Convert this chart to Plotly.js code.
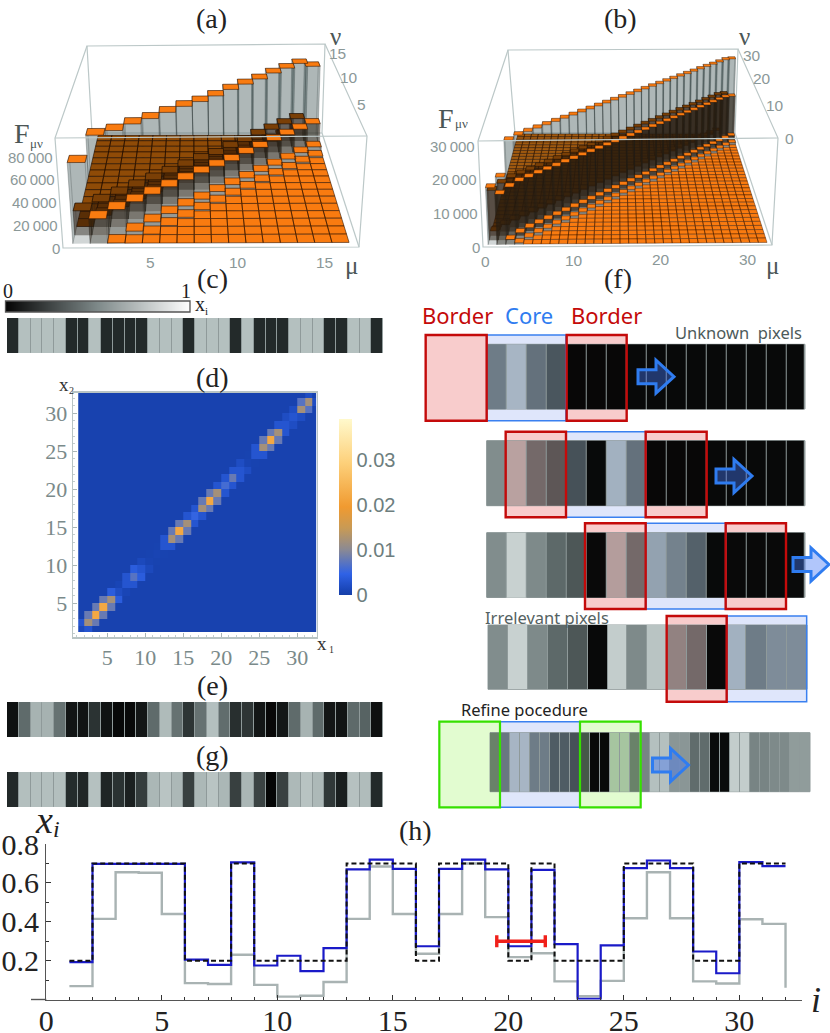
<!DOCTYPE html>
<html><head><meta charset="utf-8">
<script src="https://cdn.plot.ly/plotly-3.0.1.min.js"></script>
<style>html,body{margin:0;padding:0;background:#fff}</style></head>
<body><div id="chart" style="width:830px;height:1033px"></div>
<script>
// ---- (h) series, also the strips (c), (e), (g)
const indexH=[1,2,3,4,5,6,7,8,9,10,11,12,13,14,15,16,17,18,19,20,21,22,23,24,25,26,27,28,29,30,31,32];
const target=[.2,.7,.7,.7,.7,.2,.2,.7,.2,.2,.2,.2,.7,.7,.7,.2,.7,.7,.7,.2,.7,.2,.2,.2,.7,.7,.7,.2,.2,.7,.7,.2];
const recovered=[.192,.698,.698,.698,.698,.205,.178,.705,.175,.225,.146,.264,.669,.72,.672,.274,.672,.72,.669,.274,.667,.285,.003,.278,.676,.715,.676,.247,.135,.707,.686,.2];
const inverse=[.069,.415,.655,.652,.44,.084,.08,.23,.075,.015,.019,.09,.415,.684,.44,.235,.44,.70,.424,.218,.238,.093,.017,.096,.418,.655,.418,.093,.082,.413,.389,.06];
const rampValues=[0,.1,.2,.3,.4,.5,.6,.7,.8,.9,1];
// ---- (a) bar heights by distance from the diagonal
const diagA=[72000,90000,88000,88000,87000,87000,87000,86000,86000,87000,87000,87000,88000,88000,88000,80000];
const off1A=[22000,23000,23000,23000,23000,23000,23000,23000,22000,23000,23000,24000,24000,24000,24000];
const off2A=[500,3500,4500,5000,5000,4500,5000,5000,5000,5000,5000,5000,5500,5500];
const off3A=[300,800,1200,1500,1500,1500,1500,1500,1500,1500,1500,1800,1800];
const floorA=300;
// ---- (b)
const diagB=[17000,19000,29000,29500,29500,29500,29500,29500,29500,29500,29500,29500,29500,29500,29500,29500,29500,29500,29500,29500,29500,29500,29500,29500,29500,29500,29500,29500,29500,29500,29500,29000];
const off1B=[15000,16000,16500,16500,16500,16500,16500,16500,16500,16500,16500,16500,16500,16500,16500,16500,16500,16500,16500,16500,16500,16500,16500,16500,16500,16500,16500,16500,16500,16500,16000];
const off2B=[1500,2200,2400,2400,2400,2400,2400,2400,2400,2400,2400,2400,2400,2400,2400,2400,2400,2400,2400,2400,2400,2400,2400,2400,2400,2400,2400,2400,2400,2400];
const off3B=[500,800,900,900,900,900,900,900,900,900,900,900,900,900,900,900,900,900,900,900,900,900,900,900,900,900,900,900,900];
const floorB=120;
// ---- (d)
const diagD=[.0015,.012,.022,.022,.012,.002,.003,.007,.003,.0008,.0008,.003,.012,.022,.012,.005,.012,.022,.012,.006,.008,.003,.0008,.003,.012,.022,.012,.003,.003,.012,.012,.0006];
const off1D=[.003,.008,.008,.008,.004,.001,.003,.004,.0015,.0006,.0006,.003,.008,.008,.003,.003,.008,.008,.003,.003,.003,.002,.0006,.003,.008,.008,.003,.002,.002,.007,.002];
const backgroundD=.0005;
const xEdgesD=[1.18,2,3,4,5,6,7,8,9,10,11,12,13,14,15,16,17,18,19,20,21,22,23,24,25,26,27,28,29,30,31,32,32.55];
// ---- (f) pixel intensities of each row
const row1=[.52,.74,.48,.38,.02,.02,.02,.02,.02,.02,.02,.02,.02,.02,.02,.02];
const row2=[.53,.74,.5,.42,.36,.03,.72,.48,.02,.02,.02,.02,.02,.02,.02,.02];
const row3=[.53,.78,.52,.41,.35,.03,.72,.5,.66,.54,.42,.03,.03,.03,.03,.03];
const row4=[.53,.78,.52,.41,.35,.02,.76,.52,.72,.6,.5,.03,.72,.52,.58,.58];
const row5=[.5,.5,.74,.74,.52,.52,.4,.4,.36,.36,.03,.03,.74,.74,.5,.5,.7,.7,.56,.56,.42,.42,.03,.03,.76,.76,.5,.5,.52,.52,.58,.58];

const grayStops=[[0,[5,5,5]],[.2,[35,42,42]],[.42,[96,108,108]],[.7,[180,192,191]],[1,[255,255,255]]];
const tinted=t=>grayStops.map(([p,c])=>[p,'rgb('+c.map((v,i)=>Math.round(v*t[i])).join(',')+')']);
const grayScale=tinted([1,1,1]);
const TR=[.97,.80,.80],TB=[.875,.9,.985],TG=[.87,.985,.80];
const dScale=[[0,'#163fa8'],[.03,'#1a46b8'],[.12,'#2f62e6'],[.26,'#8c8a92'],[.38,'#c89a55'],[.5,'#f09a30'],[.75,'#fdd07a'],[1,'#fff9cc']];
const traces=[],shapes=[],annos=[];
const SERIF='"Liberation Serif",serif',SANS='"Liberation Sans",sans-serif',NOTO='"Noto Sans",sans-serif';
function T(text,x,y,size,color,family,anchor,italic){
  annos.push({text:italic?'<i>'+text+'</i>':text,x:x,y:y,xref:'x',yref:'y',showarrow:false,xanchor:anchor||'center',yanchor:'middle',
    font:{size:size,color:color||'#222',family:family||SERIF},borderpad:0,borderwidth:0});
}
function dom(x0,x1,y0,y1){return {x:[x0/830,x1/830],y:[1-y1/1033,1-y0/1033]};}

// ---------- perspective bars
function homography(q){
  const [x0,y0]=q[0],[x1,y1]=q[1],[x2,y2]=q[2],[x3,y3]=q[3];
  const dx1=x1-x2,dx2=x3-x2,sx=x0-x1+x2-x3,dy1=y1-y2,dy2=y3-y2,sy=y0-y1+y2-y3;
  const den=dx1*dy2-dx2*dy1,g=(sx*dy2-dx2*sy)/den,h=(dx1*sy-sx*dy1)/den;
  const a=x1-x0+g*x1,b=x3-x0+h*x3,d=y1-y0+g*y1,e=y3-y0+h*y3;
  return (u,v)=>{const w=g*u+h*v+1;return [(a*u+b*v+x0)/w,(d*u+e*v+y0)/w];};
}
function panel3D(P,diag,o1,o2,o3,base){
  const hf=homography(P.floor),ht=homography(P.top),N=diag.length;
  const pr=(m,n,f)=>{const u=m/P.span,v=n/P.span,a=hf(u,v),b=ht(u,v),t=f/P.fMax;return [a[0]+(b[0]-a[0])*t,a[1]+(b[1]-a[1])*t];};
  const height=(m,n)=>{const d=Math.abs(m-n),k=Math.min(m,n)-1;
    return d===0?diag[k]:d===1?o1[k]:d===2?o2[k]:d===3?o3[k]:base;};
  const add=(path,opt)=>{traces.push(Object.assign({x:path.x,y:path.y,type:'scatter',mode:'lines',xaxis:'x',yaxis:'y',hoverinfo:'skip',showlegend:false,fill:'toself'},opt));};
  const poly=(pts,t)=>{pts.concat([pts[0]]).forEach(p=>{t.x.push(p[0]);t.y.push(p[1]);});t.x.push(null);t.y.push(null);};
  const line=(pts,w,c)=>{traces.push({x:pts.map(p=>p[0]),y:pts.map(p=>p[1]),type:'scatter',mode:'lines',xaxis:'x',yaxis:'y',hoverinfo:'skip',showlegend:false,line:{color:c,width:w}});};
  const S=P.span,F=P.fMax,frame='#bcc8c8';
  const newg=()=>({x:[],y:[]});
  const faces=(m,n,f,g)=>{const a=m-.5,b=m+.5,c=n-.5,d=n+.5;
    poly([pr(a,d,0),pr(b,d,0),pr(b,d,f),pr(a,d,f)],g.back);
    poly([pr(a,c,0),pr(a,d,0),pr(a,d,f),pr(a,c,f)],g.side);
    poly([pr(b,c,0),pr(b,d,0),pr(b,d,f),pr(b,c,f)],g.side);
    poly([pr(a,c,0),pr(b,c,0),pr(b,c,f),pr(a,c,f)],g.front);};
  const tile=(m,n,f,t)=>{const a=m-.5,b=m+.5,c=n-.5,d=n+.5;poly([pr(a,c,f),pr(b,c,f),pr(b,d,f),pr(a,d,f)],t);};
  const emit=(g,col)=>{
    if(g.back.x.length)add(g.back,{fillcolor:col,line:{width:0}});
    if(g.side.x.length)add(g.side,{fillcolor:col,line:{width:.5,color:'rgba(30,40,40,.5)'}});
    if(g.front.x.length)add(g.front,{fillcolor:col,line:{width:0}});};
  line([pr(0,S,0),pr(0,S,F),pr(S,S,F),pr(S,S,0),pr(0,S,0)],1.2,frame);
  // the tall diagonal walls, grey on the page
  for(let n=N;n>=1;n--){const g={back:newg(),side:newg(),front:newg()};faces(n,n,diag[n-1],g);emit(g,'rgba(62,82,82,'+P.alpha+')');}
  // behind the diagonal: the floor seen through the glassy walls
  for(let n=N;n>=1;n--){
    const t=newg(),t1=newg(),g={back:newg(),side:newg(),front:newg()};
    for(let m=1;m<n;m++){const f=height(m,n);
      if(n-m>=2)tile(m,n,f,t);
    }
    if(t.x.length)add(t,{fillcolor:P.behind,line:{width:P.edgeW,color:'rgba(30,12,0,.85)'}});
    if(n>=2){const m=n-1,f=height(m,n);faces(m,n,f,g);emit(g,'rgba(40,20,5,'+P.darkAlpha+')');tile(m,n,f,t1);add(t1,{fillcolor:P.behind1,line:{width:P.edgeW,color:'rgba(20,8,0,.9)'}});}
  }
  // the diagonal tops and everything in front of the diagonal
  for(let n=N;n>=1;n--){
    const base0=newg(),top=newg(),g={back:newg(),side:newg(),front:newg()};
    tile(n,n,diag[n-1],top);
    for(let m=n+1;m<=N;m++){const f=height(m,n);
      tile(m,n,f,top);
      if(f>P.wallMin){tile(m,n,0,base0);faces(m,n,f,g);}
    }
    if(base0.x.length)add(base0,{fillcolor:'#c6cfcf',line:{width:0}});
    if(g.back.x.length){add(g.back,{fillcolor:'rgba(40,30,18,'+P.darkAlpha+')',line:{width:0}});add(g.side,{fillcolor:'rgba(40,30,18,'+P.darkAlpha+')',line:{width:.4,color:'rgba(30,30,30,.5)'}});}
    add(top,{fillcolor:'#f97b10',line:{width:P.edgeW,color:'rgba(50,20,0,.85)'}});
    if(g.front.x.length)add(g.front,{fillcolor:'rgba(40,30,18,'+P.darkAlpha+')',line:{width:0}});
  }
  line([pr(0,0,F),pr(S,0,F)],1.2,frame);
  line([pr(0,S,F),pr(0,0,F),pr(0,0,0),pr(S,0,0),pr(S,0,F),pr(S,S,F)],1.2,frame);
  line([pr(S,S,0),pr(S,0,0)],1.2,frame);
  return pr;
}
const prA=panel3D({floor:[[63,248],[359,247],[322,133],[92,133]],top:[[55,138],[367,136],[325,44],[87,46]],span:17,fMax:97000,alpha:.24,darkAlpha:.3,wallMin:400,behind:'#8f4b07',behind1:'#7a3f06',edgeW:.7},diagA,off1A,off2A,off3A,floorA);
const prB=panel3D({floor:[[483,247],[772,245],[735,133],[515,133]],top:[[478,141],[778,138],[738,49],[508,50]],span:33,fMax:31500,alpha:.24,darkAlpha:.4,wallMin:300,behind:'#a05a10',behind1:'#7a3f06',edgeW:.5},diagB,off1B,off2B,off3B,floorB);

const tickGray='#8b9898',thin='\u2009';
[[0,'0'],[20000,'20'+thin+'000'],[40000,'40'+thin+'000'],[60000,'60'+thin+'000'],[80000,'80'+thin+'000']].forEach(([v,s])=>{const p=prA(0,0,v);T(s,p[0]-3,p[1],15,tickGray,SANS,'right');});
[5,10,15].forEach(v=>{const p=prA(v,0,0);T(String(v),p[0],p[1]+15,15.5,tickGray,SANS);});
[5,10,15].forEach(v=>{const p=prA(17,v,97000);T(String(v),p[0]+9,p[1]+1,15.5,tickGray,SANS);});
[[0,'0'],[10000,'10'+thin+'000'],[20000,'20'+thin+'000'],[30000,'30'+thin+'000']].forEach(([v,s])=>{const p=prB(0,0,v);T(s,p[0]-3,p[1],15,tickGray,SANS,'right');});
[0,10,20,30].forEach(v=>{const p=prB(v,0,0);T(String(v),p[0]+2,p[1]+14,15.5,tickGray,SANS);});
[0,10,20,30].forEach(v=>{const p=prB(33,v,31500);T(String(v),p[0]+11,p[1],15.5,tickGray,SANS);});

const labDark='#4b5656';
T('F',22,133,28,labDark);T('μν',36,143,13,labDark);
T('ν',335,36,25,labDark);T('μ',351,265,25,labDark);
T('F',446,118,28,labDark);T('μν',461,123,13,labDark);
T('ν',744,36,25,labDark);T('μ',772,265,25,labDark);

T('(a)',211,18,28);T('(b)',620,18,28);T('(c)',212,278,28);T('(f)',618,278,28);
T('(d)',212,377,28);T('(e)',212,685,28);T('(g)',212,755,28);T('(h)',415,830,28);
T('0',8,291,20);T('1',186,291,20);T('x',200,304,20);T('i',206,311,11);
T('x',64,384,19,'#333');T('2',71,390,10,'#333');T('x',322,643,19,'#333');T('1',331,649,10,'#333');
T('x',44,820,38,'#222',SERIF,'center',true);T('i',56,829,24,'#222',SERIF,'center',true);
T('i',816,1000,36,'#222',SERIF,'center',true);

// ---------- strips
const layout={width:830,height:1033,autosize:false,margin:{l:0,r:0,t:0,b:0},paper_bgcolor:'#fff',plot_bgcolor:'rgba(0,0,0,0)',showlegend:false,shapes:shapes,annotations:annos,
  xaxis:{domain:[0,1],range:[0,830],visible:false,fixedrange:true,anchor:'y'},
  yaxis:{domain:[0,1],range:[1033,0],visible:false,fixedrange:true,anchor:'x'}};
function hiddenAxes(i,D,xr,yr){
  layout['xaxis'+i]={domain:D.x,range:xr,visible:false,anchor:'y'+i,fixedrange:true};
  layout['yaxis'+i]={domain:D.y,range:yr,visible:false,anchor:'x'+i,fixedrange:true};
}
[[2,target,318,353],[3,inverse,702,737],[4,recovered,772,807]].forEach(([i,v,y0,y1])=>{
  hiddenAxes(i,dom(7,383,y0,y1),[.5,32.5],[-.5,.5]);
  shapes.push({type:'rect',xref:'x'+i,yref:'y'+i,x0:.5,x1:32.5,y0:-.5,y1:.5,layer:'below',fillcolor:'#8f9a9a',line:{width:1,color:'#9aa6a6'}});
  traces.push({type:'heatmap',x:indexH,y:[0],z:[v],zmin:0,zmax:1,colorscale:grayScale,showscale:false,xgap:1,hoverinfo:'skip',xaxis:'x'+i,yaxis:'y'+i});
});
hiddenAxes(5,dom(6,190,301,312),[0,1],[-.5,.5]);
traces.push({type:'heatmap',x:rampValues,y:[0],z:[rampValues],zmin:0,zmax:1,zsmooth:'best',colorscale:[[0,'#050505'],[.5,'#7f8a8a'],[1,'#ffffff']],showscale:false,hoverinfo:'skip',xaxis:'x5',yaxis:'y5'});
shapes.push({type:'rect',xref:'x',yref:'y',x0:5.5,x1:190,y0:301,y1:312,line:{width:1.3,color:'#555'},fillcolor:'rgba(0,0,0,0)'});

// ---------- (d)
const D=dom(73.3,316.7,393,637);
const axD=r=>({domain:null,range:r,fixedrange:true,tickvals:[5,10,15,20,25,30],ticks:'inside',ticklen:4,tickcolor:'#aab6b6',showgrid:false,zeroline:false,showline:true,linecolor:'#b9c4c4',linewidth:1.6,mirror:true,
  tickfont:{family:SERIF,size:22,color:'#7a8a8a'},minor:{dtick:1,ticks:'inside',ticklen:2,tickcolor:'#c4cece',showgrid:false}});
layout.xaxis6=Object.assign(axD([.53,32.55]),{domain:D.x,anchor:'y6'});
layout.yaxis6=Object.assign(axD([.57,32.67]),{domain:D.y,anchor:'x6'});
const zD=diagD.map((_,r)=>diagD.map((_,c)=>{
  const d=Math.abs(r-c);return d===0?diagD[r]:d===1?off1D[Math.min(r,c)]:backgroundD;}));
traces.push({type:'heatmap',x:xEdgesD,y:xEdgesD.map(v=>v===32.55?32.67:v),z:zD,zmin:0,zmax:.039,colorscale:dScale,hoverinfo:'skip',xaxis:'x6',yaxis:'y6',
  colorbar:{x:339/830,xanchor:'left',y:1-507/1033,yanchor:'middle',lenmode:'pixels',len:176,thicknessmode:'pixels',thickness:13,outlinewidth:0,borderwidth:0,xpad:0,ypad:0,ticks:'',
   tickvals:[0,.01,.02,.03],ticktext:['0','0.01','0.02','0.03'],tickfont:{family:SANS,size:20,color:'#6d7e7e'}}});

// ---------- (f)
const F5=[486.7,506.7,526.7,546.7,566.7,586.7,606.7,626.7,646.7,666.7,686.7,706.7,726.7,746.7,766.7,786.7,805];
const F4=[488,508,528,548,568,588,608,627,647,667,687,707,727,746,767,787,807];
const F5b=row5.map((_,i)=>490+i*10).concat([810]);
function box(x0,x1,y0,y1,stroke,fill,w,layer){shapes.push({type:'rect',xref:'x',yref:'y',x0:x0,x1:x1,y0:y0,y1:y1,line:{color:stroke,width:w},fillcolor:fill,layer:layer||'above'});}
function rowStrip(xs,vals,y0,y1,segs){
  shapes.push({type:'rect',xref:'x',yref:'y',x0:xs[0],x1:xs[xs.length-1],y0:y0,y1:y1,layer:'below',fillcolor:'#8f9a9a',line:{width:1,color:'#8f9a9a'}});
  segs.forEach(([a,b,t])=>{
    traces.push({type:'heatmap',x:xs.slice(a,b+1),y:[y0,y1],z:[vals.slice(a,b)],zmin:0,zmax:1,colorscale:tinted(t),showscale:false,xgap:1,hoverinfo:'skip',xaxis:'x',yaxis:'y'});
  });
}
const W=[1,1,1];
const RED='#c40a0a',REDF='#f8cccc',BLU='#3a80f0',BLUF='#dfe6fb',GRN='#36e000',GRNF='#e2fcd0';
const bz=x=>415+x/3;
// pale panels lie under the strips; their outlines are drawn over them
function panels(list,y0,y1){
  list.forEach(([x0,x1,s,f,w])=>{box(bz(x0),bz(x1),y0,y1,'rgba(0,0,0,0)',f,0,'below');});
  list.forEach(([x0,x1,s,f,w])=>{box(bz(x0),bz(x1),y0,y1,s,'rgba(0,0,0,0)',w);});
}
panels([[215,453,BLU,BLUF,1.5],[32,215,RED,REDF,2.4],[455,635,RED,REDF,2.4]],335,420.7);
panels([[453,692,BLU,BLUF,1.5],[272,453,RED,REDF,2.4],[692,875,RED,REDF,2.4]],431.7,517.3);
panels([[692,932,BLU,BLUF,1.5],[510,692,RED,REDF,2.4],[932,1113,RED,REDF,2.4]],523.3,609);
panels([[935,1175,BLU,BLUF,1.5],[755,935,RED,REDF,2.4]],616,701.7);
panels([[255,495,BLU,BLUF,1.5],[73,255,GRN,GRNF,2.2],[495,677,GRN,GRNF,2.2]],721.7,807.3);
rowStrip(F5,row1,344.3,409,[[0,4,TB],[4,7,TR],[7,16,W]]);
rowStrip(F5,row2,440.7,505.7,[[0,1,W],[1,4,TR],[4,8,TB],[8,11,TR],[11,16,W]]);
rowStrip(F5,row3,532.7,597.3,[[0,5,W],[5,8,TR],[8,12,TB],[12,15,TR],[15,16,W]]);
rowStrip(F4,row4,625,689.3,[[0,9,W],[9,12,TR],[12,16,TB]]);
rowStrip(F5b,row5,732.7,791.7,[[0,1,TG],[1,9,TB],[9,15,TG],[15,32,W]]);
function arrow(x,y){
  const p=[[0,-7],[18,-7],[18,-16.5],[36,0],[18,16.5],[18,7],[0,7]].map(q=>(x+q[0])+','+(y+q[1]));
  shapes.push({type:'path',xref:'x',yref:'y',path:'M'+p.join('L')+'Z',line:{color:'#2f7cf0',width:3},fillcolor:'rgba(70,120,245,.42)'});
}
arrow(638,376.7);arrow(716,476);arrow(793,564.5);arrow(652.5,765);
T('Border',422,315,22,'#c40a0a',NOTO,'left');T('Core',505,315,22,'#2f7cf0',NOTO,'left');T('Border',571,315,22,'#c40a0a',NOTO,'left');
T('Unknown  pixels',675,332,16.5,'#4d5a5a',NOTO,'left');
T('Irrelevant pixels',485,617,16.5,'#556262',NOTO,'left');
T('Refine pocedure',461,709,16.5,'#222',NOTO,'left');

// ---------- (h)
const H=dom(46.3,801.7,844,999.5);
layout.xaxis7={domain:H.x,range:[0,32.7],anchor:'y7',fixedrange:true,tickvals:[0,5,10,15,20,25,30],ticktext:['0','5','10','15','20','25','30'],ticks:'inside',ticklen:5,tickcolor:'#333',tickwidth:1,showgrid:false,zeroline:false,showline:true,linecolor:'#555',linewidth:1.4,
  tickfont:{family:SERIF,size:30,color:'#222'},ticklabelstandoff:-6,minor:{dtick:1,ticks:'inside',ticklen:3,tickcolor:'#333',showgrid:false}};
layout.yaxis7={domain:H.y,range:[0,.8],anchor:'x7',fixedrange:true,tickvals:[.2,.4,.6,.8],ticktext:['0.2','0.4','0.6','0.8'],ticks:'inside',ticklen:5,tickcolor:'#333',showgrid:false,zeroline:false,showline:true,linecolor:'#555',linewidth:1.2,
  tickfont:{family:SERIF,size:30,color:'#222'},minor:{dtick:.1,ticks:'inside',ticklen:3,tickcolor:'#333',showgrid:false}};
shapes.push({type:'line',xref:'x',yref:'y',x0:31,x1:46.3,y0:999.5,y1:999.5,line:{color:'#555',width:1.4}});
const stepLine=(v,style,drop)=>({type:'scatter',mode:'lines',x:indexH.concat(drop!==undefined?[32]:[]),y:v.slice(0,31).concat([v[30]]).concat(drop!==undefined?[drop]:[]),line:Object.assign({shape:'hv'},style),xaxis:'x7',yaxis:'y7',hoverinfo:'skip',showlegend:false});
traces.push(stepLine(inverse,{color:'#a9b3b3',width:2.4},.06));
traces.push(stepLine(recovered,{color:'#1a1ac8',width:2.2}));
traces.push(stepLine(target,{color:'#111',width:2,dash:'5px,3px'}));
traces.push({type:'scatter',mode:'markers',x:[20.55],y:[.3],marker:{size:1,opacity:0},error_x:{type:'constant',value:1.05,color:'#f0201a',thickness:3.4,width:6},xaxis:'x7',yaxis:'y7',hoverinfo:'skip',showlegend:false});

Plotly.newPlot('chart',traces,layout,{displayModeBar:false,staticPlot:true});
</script></body></html>
